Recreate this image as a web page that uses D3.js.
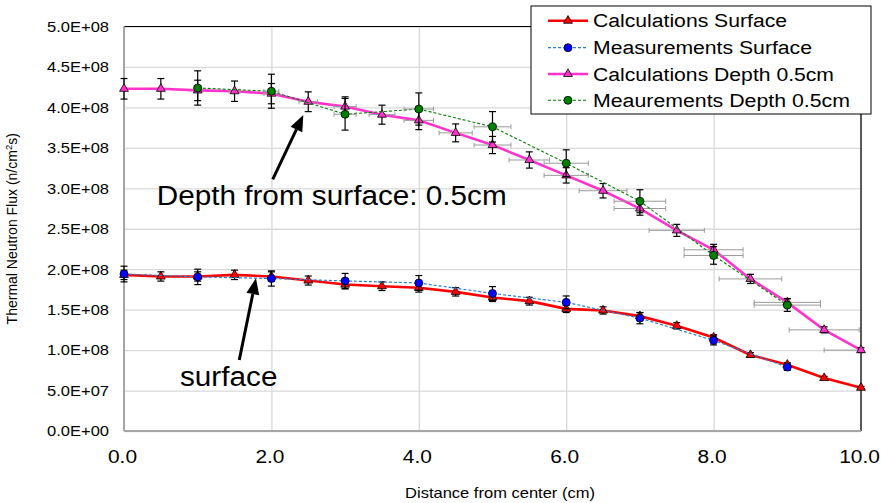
<!DOCTYPE html>
<html><head><meta charset="utf-8">
<script src="https://cdn.jsdelivr.net/npm/d3@7"></script>
<style>body{margin:0;background:#fff} text{font-family:"Liberation Sans",Arial,sans-serif;fill:#000}</style>
</head><body>
<svg id="c" width="881" height="503"></svg>
<script>
// ---- data ----
const xCalc = [0,0.5,1,1.5,2,2.5,3,3.5,4,4.5,5,5.5,6,6.5,7,7.5,8,8.5,9,9.5,10];
const calcSurface = [1.93e8,1.91e8,1.91e8,1.93e8,1.91e8,1.86e8,1.81e8,1.79e8,1.77e8,1.72e8,1.65e8,1.605e8,1.51e8,1.49e8,1.42e8,1.30e8,1.155e8,0.94e8,0.82e8,0.655e8,0.535e8];
const calcDepth = [4.23e8,4.23e8,4.21e8,4.20e8,4.17e8,4.07e8,4.01e8,3.91e8,3.84e8,3.685e8,3.535e8,3.35e8,3.16e8,2.97e8,2.75e8,2.48e8,2.24e8,1.88e8,1.59e8,1.25e8,1.00e8];
const xMeasSurface = [0,1,2,3,4,5,6,7,8,9];
const measSurface = [1.94e8,1.905e8,1.885e8,1.855e8,1.83e8,1.70e8,1.59e8,1.395e8,1.12e8,0.79e8];
const xMeasDepth = [1,2,3,4,5,6,7,8,9];
const measDepth = [4.24e8,4.20e8,3.915e8,3.98e8,3.76e8,3.31e8,2.84e8,2.17e8,1.556e8];
const calcErr = 0.03, measErr = 0.05, xErrDepth = 0.05;
const seriesNames = ["Calculations Surface","Measurements Surface","Calculations Depth 0.5cm","Meaurements Depth 0.5cm"];
const xTicks = [0,2,4,6,8,10];
const xTickLabels = ["0.0","2.0","4.0","6.0","8.0","10.0"];
const yTicks = [0,5e7,1e8,1.5e8,2e8,2.5e8,3e8,3.5e8,4e8,4.5e8,5e8];
const yTickLabels = ["0.0E+00","5.0E+07","1.0E+08","1.5E+08","2.0E+08","2.5E+08","3.0E+08","3.5E+08","4.0E+08","4.5E+08","5.0E+08"];
const xTitle = "Distance from center (cm)";
const annotations = [
  {text:"Depth from surface: 0.5cm", tx:0.444, ty:2.794e8, ax0:2.018, ay0:3.111e8, ax1:2.433, ay1:3.906e8},
  {text:"surface", tx:0.76, ty:0.556e8, ax0:1.564, ay0:0.878e8, ax1:1.791, ay1:1.888e8}
];

// ---- layout ----
const L=124, R=861, T=26.5, B=431;
const svg = d3.select("#c");
const x = d3.scaleLinear().domain([0,10]).range([L,R]);
const y = d3.scaleLinear().domain([0,5e8]).range([B,T]);

function stretch(sel, f){ sel.each(function(){ const w=this.getComputedTextLength(); d3.select(this).attr("textLength",w*f).attr("lengthAdjust","spacingAndGlyphs"); }); }

// gridlines
svg.append("g").attr("transform",`translate(${L},0)`)
  .call(d3.axisLeft(y).tickValues(yTicks).tickSize(-(R-L)).tickFormat(""))
  .call(g=>g.select(".domain").remove())
  .selectAll("line").attr("stroke","#d9d9d9").attr("stroke-width",1.3);
svg.append("g").attr("transform",`translate(0,${B})`)
  .call(d3.axisBottom(x).tickValues(xTicks).tickSize(-(B-T)).tickFormat(""))
  .call(g=>g.select(".domain").remove())
  .selectAll("line").attr("stroke","#d9d9d9").attr("stroke-width",1.3);

// plot borders
svg.append("line").attr("x1",L).attr("x2",R).attr("y1",T).attr("y2",T).attr("stroke","#000").attr("stroke-width",1);
svg.append("line").attr("x1",R).attr("x2",R).attr("y1",T).attr("y2",B).attr("stroke","#5a5a5a").attr("stroke-width",2);
svg.append("line").attr("x1",L).attr("x2",L).attr("y1",T).attr("y2",B).attr("stroke","#a6a6a6").attr("stroke-width",2);
svg.append("line").attr("x1",L).attr("x2",R).attr("y1",B).attr("y2",B).attr("stroke","#a6a6a6").attr("stroke-width",2);

// axis labels
const ya = svg.append("g").attr("transform",`translate(${L},0)`)
  .call(d3.axisLeft(y).tickValues(yTicks).tickSize(0).tickPadding(15).tickFormat((d,i)=>yTickLabels[i]));
ya.select(".domain").remove();
ya.selectAll("text").attr("font-size",15).attr("font-family","Liberation Sans, Arial").call(stretch,1.1);
const xa = svg.append("g").attr("transform",`translate(0,${B})`)
  .call(d3.axisBottom(x).tickValues(xTicks).tickSize(0).tickPadding(19).tickFormat((d,i)=>xTickLabels[i]));
xa.select(".domain").remove();
xa.selectAll("text").attr("font-size",18).attr("font-family","Liberation Sans, Arial").attr("dx",-2).call(stretch,1.16);

svg.append("text").attr("x",500).attr("y",498).attr("text-anchor","middle").attr("font-size",15).text(xTitle).call(stretch,1.1);
const yt = svg.append("text").attr("transform",`translate(17,${(T+B)/2}) rotate(-90)`).attr("text-anchor","middle").attr("font-size",14);
yt.append("tspan").text("Thermal Neutron Flux (n/cm");
yt.append("tspan").attr("font-size",9.5).attr("dy",-5).text("2");
yt.append("tspan").attr("dy",5).text("s)");

// ---- series ----
const tri = d3.symbol().type(d3.symbolTriangle).size(34);
function drawSeries(xs, ys, opt){
  const g = svg.append("g");
  const pts = xs.map((d,i)=>[d,ys[i]]);
  const line = d3.line().x(d=>x(d[0])).y(d=>y(d[1]));
  g.append("path").attr("d",line(pts)).attr("fill","none").attr("stroke",opt.color).attr("stroke-width",opt.lw)
    .attr("stroke-dasharray",opt.dash||null);
  if(opt.xerr){
    pts.forEach(p=>{
      const e=p[0]*opt.xerr; if(e<=0) return;
      const x0=x(p[0]-e), x1=Math.min(x(p[0]+e),R), yy=y(p[1]);
      g.append("line").attr("x1",x0).attr("x2",x1).attr("y1",yy).attr("y2",yy).attr("stroke","#9a9a9a").attr("stroke-width",1);
      g.append("line").attr("x1",x0).attr("x2",x0).attr("y1",yy-2.5).attr("y2",yy+2.5).attr("stroke","#9a9a9a").attr("stroke-width",1);
      if(x(p[0]+e)<=R) g.append("line").attr("x1",x1).attr("x2",x1).attr("y1",yy-2.5).attr("y2",yy+2.5).attr("stroke","#9a9a9a").attr("stroke-width",1);
    });
  }
  pts.forEach(p=>{
    const e=p[1]*opt.yerr, xx=x(p[0]), y0=y(p[1]-e), y1=y(p[1]+e);
    g.append("line").attr("x1",xx).attr("x2",xx).attr("y1",y0).attr("y2",y1).attr("stroke","#000").attr("stroke-width",1.2);
    g.append("line").attr("x1",xx-3.5).attr("x2",xx+3.5).attr("y1",y0).attr("y2",y0).attr("stroke","#000").attr("stroke-width",1.2);
    g.append("line").attr("x1",xx-3.5).attr("x2",xx+3.5).attr("y1",y1).attr("y2",y1).attr("stroke","#000").attr("stroke-width",1.2);
  });
  pts.forEach(p=>{
    if(opt.marker==="tri") g.append("path").attr("d",tri()).attr("transform",`translate(${x(p[0])},${y(p[1])})`)
      .attr("fill",opt.mfill).attr("stroke","#000").attr("stroke-width",0.8);
    else g.append("circle").attr("cx",x(p[0])).attr("cy",y(p[1])).attr("r",4).attr("fill",opt.mfill).attr("stroke","#000").attr("stroke-width",0.8);
  });
}
const styles = [
  {color:"#ff0000", lw:2.6, marker:"tri", mfill:"#ff0000", yerr:calcErr},
  {color:"#2a7fd4", lw:1.2, dash:"3,2", marker:"circle", mfill:"#0000ff", yerr:measErr},
  {color:"#ff33cc", lw:2.6, marker:"tri", mfill:"#ff33cc", yerr:calcErr, xerr:xErrDepth},
  {color:"#008000", lw:1.1, dash:"3,2", marker:"circle", mfill:"#008000", yerr:measErr, xerr:xErrDepth}
];
drawSeries(xCalc, calcSurface, styles[0]);
drawSeries(xMeasSurface, measSurface, styles[1]);
drawSeries(xCalc, calcDepth, styles[2]);
drawSeries(xMeasDepth, measDepth, styles[3]);

// ---- annotations ----
annotations.forEach(a=>{
  const x0=x(a.ax0), y0=y(a.ay0), x1=x(a.ax1), y1=y(a.ay1);
  const ang=Math.atan2(y1-y0,x1-x0), hl=16, hw=6.5;
  const bx=x1-hl*Math.cos(ang), by=y1-hl*Math.sin(ang);
  svg.append("line").attr("x1",x0).attr("y1",y0).attr("x2",bx).attr("y2",by).attr("stroke","#000").attr("stroke-width",3);
  svg.append("path").attr("d",`M${x1},${y1}L${bx+hw*Math.sin(ang)},${by-hw*Math.cos(ang)}L${bx-hw*Math.sin(ang)},${by+hw*Math.cos(ang)}Z`).attr("fill","#000");
  svg.append("text").attr("x",x(a.tx)).attr("y",y(a.ty)).attr("font-size",27).text(a.text).call(stretch,1.1);
});

// ---- legend ----
const lg = svg.append("g");
lg.append("rect").attr("x",531).attr("y",6).attr("width",340).attr("height",108).attr("fill","#fff").attr("stroke","#000").attr("stroke-width",1);
const rowY=[20.7,47.7,74,100.3], baseY=[26.7,54,81,107.3], widths=[194,219,241,257];
seriesNames.forEach((n,i)=>{
  const s=styles[i];
  lg.append("line").attr("x1",548).attr("x2",588).attr("y1",rowY[i]).attr("y2",rowY[i]).attr("stroke",s.color).attr("stroke-width",s.lw).attr("stroke-dasharray",s.dash||null);
  if(s.marker==="tri") lg.append("path").attr("d",tri()).attr("transform",`translate(568,${rowY[i]})`).attr("fill",s.mfill).attr("stroke","#000").attr("stroke-width",0.8);
  else lg.append("circle").attr("cx",568).attr("cy",rowY[i]).attr("r",4).attr("fill",s.mfill).attr("stroke","#000").attr("stroke-width",0.8);
  lg.append("text").attr("x",593).attr("y",baseY[i]).attr("font-size",18).attr("textLength",widths[i]).attr("lengthAdjust","spacingAndGlyphs").text(n);
});
</script>
</body></html>
